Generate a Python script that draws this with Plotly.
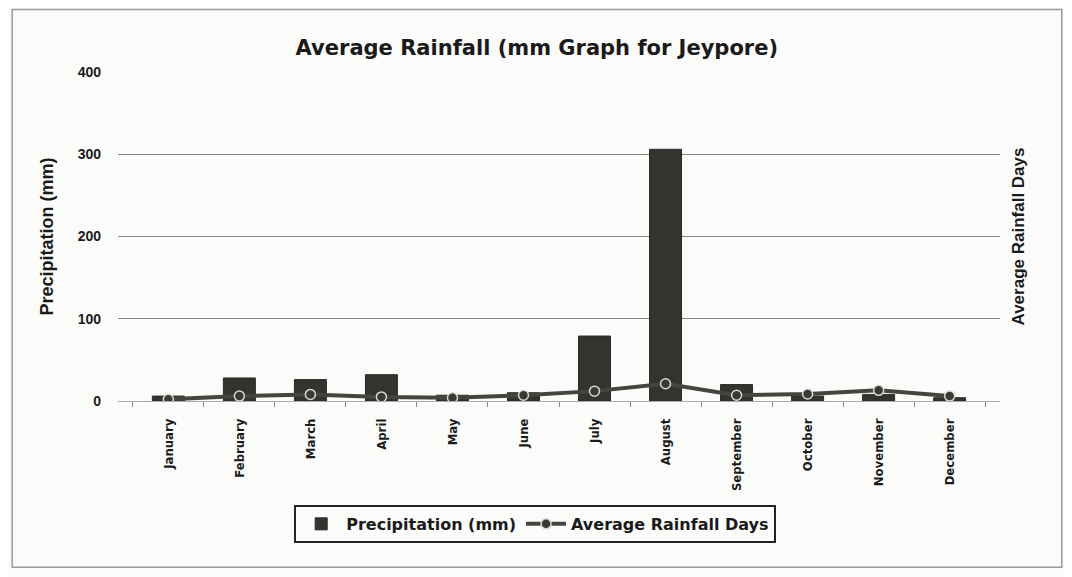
import plotly.graph_objects as go

months = ["January", "February", "March", "April", "May", "June",
          "July", "August", "September", "October", "November", "December"]
precip_mm = [6, 28, 26, 32, 7, 10, 79, 306, 20, 6, 8, 4]
rain_days = [2, 6, 8, 5, 4, 7, 12, 21, 7, 8.5, 13, 6]
y_ticks = [0, 100, 200, 300, 400]

fig = go.Figure()
fig.add_trace(go.Bar(
    x=months, y=precip_mm, name="Precipitation (mm)",
    marker=dict(color="#34332f", line=dict(color="#2a2a27", width=1)),
))
fig.add_trace(go.Scatter(
    x=months, y=rain_days, name="Average Rainfall Days", yaxis="y2",
    mode="lines+markers",
    line=dict(color="#45443f", width=4),
    marker=dict(symbol="circle", size=10, color="#3a3935",
                line=dict(color="#d8d8d4", width=1.5)),
))

fig.update_layout(
    width=1064, height=569,
    paper_bgcolor="#fbfbfa", plot_bgcolor="#fbfbfa",
    margin=dict(l=110, r=72, t=64, b=176),
    bargap=0.55,
    title=dict(text="Average Rainfall (mm Graph for Jeypore)",
               x=0.497, xanchor="center", y=0.93, yanchor="middle",
               font=dict(family="DejaVu Sans", size=21, weight="bold", color="#1a1a1a")),
    font=dict(family="Liberation Sans", color="#1a1a1a"),
    xaxis=dict(
        tickangle=-90, tickson="boundaries", ticks="outside", ticklen=5,
        tickcolor="#888", showgrid=False, showline=False,
        ticklabelstandoff=14,
        tickfont=dict(family="DejaVu Sans Condensed, Liberation Sans", size=13, weight="bold"),
    ),
    yaxis=dict(
        range=[0, 400], tickvals=y_ticks, showgrid=True,
        gridcolor="#858582", gridwidth=1.4, zeroline=True,
        zerolinecolor="#aaa", zerolinewidth=1,
        tickfont=dict(family="Liberation Sans", size=14, weight="bold"),
        ticks="", ticklabelstandoff=16,
        title=dict(text="Precipitation (mm)", standoff=19,
                   font=dict(family="Liberation Sans", size=18, weight="bold")),
    ),
    yaxis2=dict(
        range=[0, 400], overlaying="y", side="right", showgrid=False,
        showticklabels=False, zeroline=False,
        title=dict(text="Average Rainfall Days", standoff=12,
                   font=dict(family="Liberation Sans", size=17, weight="bold")),
    ),
    legend=dict(
        orientation="h", x=0.473, xanchor="center", y=-0.316, yanchor="top",
        bordercolor="#222", borderwidth=2, bgcolor="#fbfbfa",
        font=dict(family="DejaVu Sans", size=16, weight="bold"),
        itemwidth=40,
    ),
    showlegend=True,
)

fig.add_shape(type="rect", xref="paper", yref="paper",
              x0=-0.12, x1=1.07, y0=-0.505, y1=1.19,
              line=dict(color="#9a9a98", width=1.5), layer="below")

fig.write_html("out.html")
